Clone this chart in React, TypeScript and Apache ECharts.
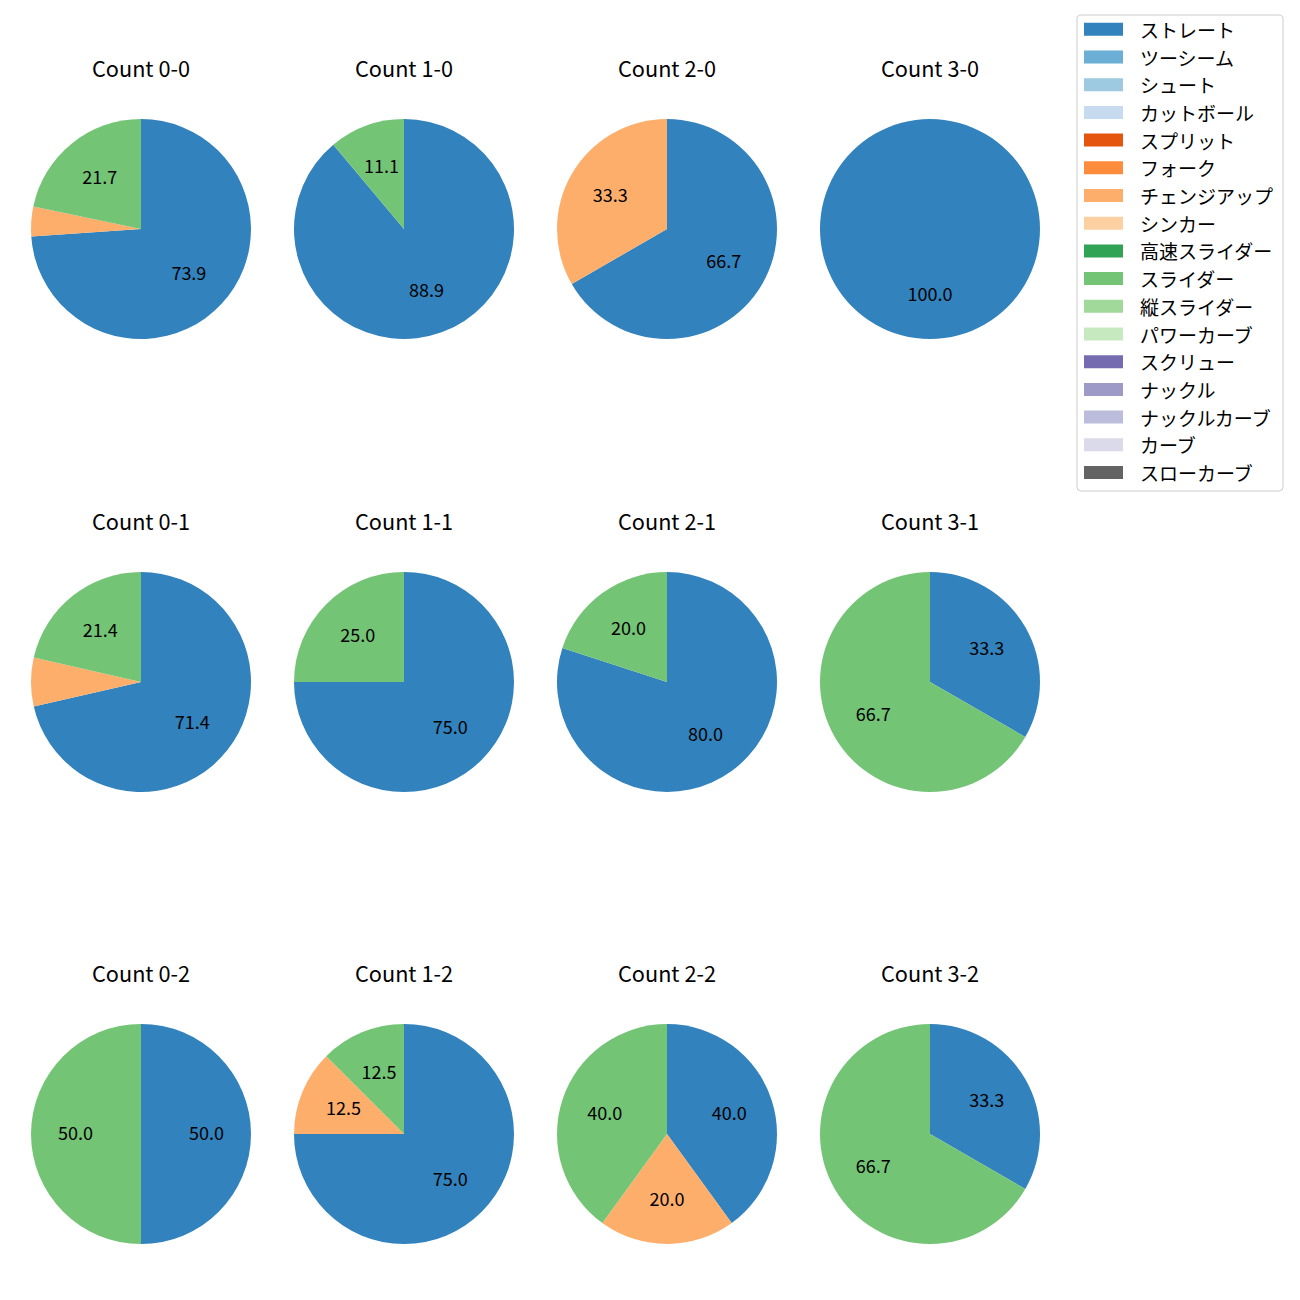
import React, { useEffect, useRef } from "react";
import * as echarts from "echarts";

const pitchTypes = [
  "ストレート", "ツーシーム", "シュート", "カットボール", "スプリット", "フォーク",
  "チェンジアップ", "シンカー", "高速スライダー", "スライダー", "縦スライダー",
  "パワーカーブ", "スクリュー", "ナックル", "ナックルカーブ", "カーブ", "スローカーブ",
];
const pitchColors = [
  "#3182bd", "#6baed6", "#9ecae1", "#c6dbef", "#e6550d", "#fd8d3c",
  "#fdae6b", "#fdd0a2", "#31a354", "#74c476", "#a1d99b", "#c7e9c0",
  "#756bb1", "#9e9ac8", "#bcbddc", "#dadaeb", "#636363",
];

const counts = ["0-0", "1-0", "2-0", "3-0", "0-1", "1-1", "2-1", "3-1", "0-2", "1-2", "2-2", "3-2"];
// pitch counts per count situation: [ストレート, チェンジアップ, スライダー]
const countPitchNames = ["ストレート", "チェンジアップ", "スライダー"];
const straightValues = [17, 8, 2, 1, 10, 3, 4, 1, 1, 6, 2, 1];
const changeupValues = [1, 0, 1, 0, 1, 0, 0, 0, 0, 1, 1, 0];
const sliderValues = [5, 1, 0, 0, 3, 1, 1, 2, 1, 1, 2, 2];

const colX = [141, 404, 667, 930];
const rowY = [229, 682, 1134];
const R = 110;
const FONT = "'Noto Sans CJK JP', 'Noto Sans', sans-serif";

export default function App() {
  const ref = useRef<HTMLDivElement>(null);
  useEffect(() => {
    document.body.style.margin = "0";
    const chart = echarts.init(ref.current!, null, { renderer: "svg" });
    const colorOf = (n: string) => pitchColors[pitchTypes.indexOf(n)];
    const series: any[] = [];
    const titles: any[] = [];
    series.push({
      type: "pie",
      radius: 0,
      center: [-100, -100],
      silent: true,
      label: { show: false },
      data: pitchTypes.map((n) => ({ name: n, value: 1, itemStyle: { color: colorOf(n) } })),
    });
    counts.forEach((c, i) => {
      const cx = colX[i % 4];
      const cy = rowY[Math.floor(i / 4)];
      const vals = [straightValues[i], changeupValues[i], sliderValues[i]];
      const total = vals.reduce((a, b) => a + b, 0);
      const data = countPitchNames
        .map((n, k) => ({ name: n, value: vals[k], itemStyle: { color: colorOf(n), borderWidth: 0 } }))
        .filter((d) => d.value > 0);
      titles.push({
        text: "Count " + c,
        left: cx,
        top: cy - 160 - 13,
        textAlign: "center",
        padding: 0,
        textStyle: { fontFamily: FONT, fontSize: 21.7, fontWeight: "normal", color: "#000", lineHeight: 22 },
      });
      series.push({
        type: "pie",
        center: [cx, cy],
        radius: [0, R],
        startAngle: 90,
        clockwise: true,
        silent: true,
        label: { show: false },
        labelLine: { show: false },
        emphasis: { disabled: true },
        itemStyle: { borderWidth: 0 },
        data,
      });
      series.push({
        type: "pie",
        center: [cx, cy],
        radius: [15, R],
        startAngle: 90,
        clockwise: true,
        silent: true,
        labelLine: { show: false },
        emphasis: { disabled: true },
        label: {
          show: true,
          position: "inside",
          fontFamily: FONT,
          fontSize: 18,
          color: "#000",
          offset: [0, -2],
          formatter: (p: any) => {
            const pct = (p.value / total) * 100;
            return pct >= 10 ? pct.toFixed(1) : "";
          },
        },
        data: data.map((d) => ({ name: d.name, value: d.value, itemStyle: { color: "rgba(0,0,0,0)", borderWidth: 0 } })),
      });
    });
    chart.setOption({
      animation: false,
      title: titles,
      legend: {
        orient: "vertical",
        left: 1077,
        top: 15,
        padding: [4.8, 10, 9, 7],
        borderColor: "#cccccc",
        borderWidth: 1,
        borderRadius: 4,
        backgroundColor: "#fff",
        itemWidth: 39,
        itemHeight: 13,
        itemGap: 8.7,
        icon: "rect",
        selectedMode: false,
        textStyle: { fontFamily: FONT, fontSize: 19, lineHeight: 19, color: "#000", padding: [0, 0, 0, 12] },
        data: pitchTypes.map((n) => ({ name: n, itemStyle: { color: colorOf(n) } })),
      },
      series,
    });
    return () => chart.dispose();
  }, []);
  return <div ref={ref} style={{ width: 1300, height: 1300 }} />;
}
